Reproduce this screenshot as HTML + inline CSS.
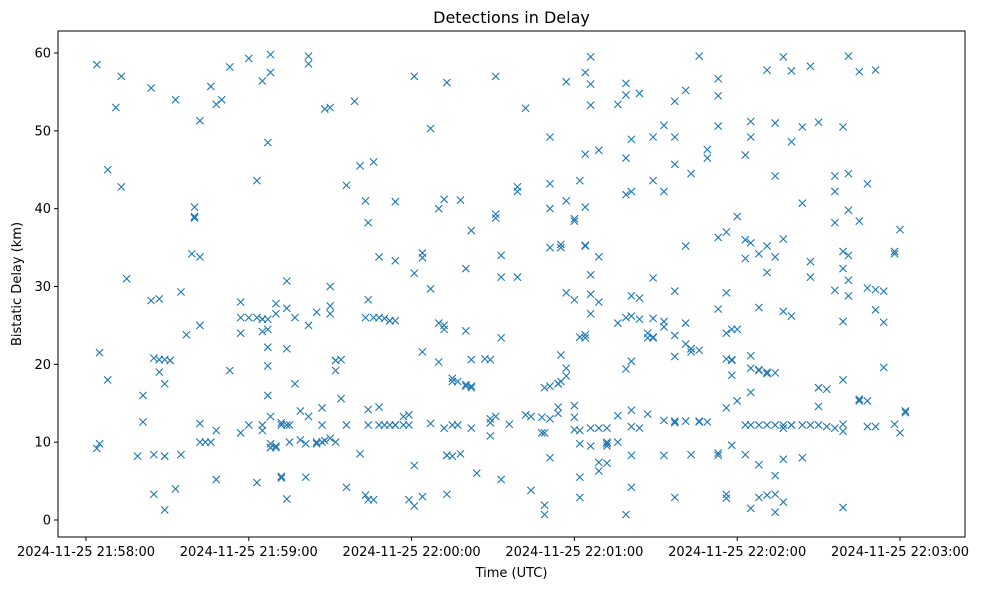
<!DOCTYPE html>
<html><head><meta charset="utf-8"><style>
body{margin:0;background:#fff;font-family:"Liberation Sans","DejaVu Sans",sans-serif}
svg text{font-family:"DejaVu Sans","Liberation Sans",sans-serif}
</style></head><body>
<svg id="c" width="981" height="590"></svg>
<script>
const xTickLabels=["2024-11-25 21:58:00","2024-11-25 21:59:00","2024-11-25 22:00:00","2024-11-25 22:01:00","2024-11-25 22:02:00","2024-11-25 22:03:00"];
const xTickSeconds=[0,60,120,180,240,300];
const yTicks=[0,10,20,30,40,50,60];
const detectionTimes=[];const detectionDelays=[];
const cols=[
[4,[58.5,9.2]],[5,[21.5,9.8]],[8,[45,18]],[11,[53]],[13,[57,42.8]],[15,[31]],[19,[8.2]],[21,[16,12.6]],
[24,[55.5,28.2]],[25,[20.8,8.4,3.3]],[27,[28.4,19,20.6]],[29,[8.2,8.2,17.5,20.6,1.3]],[31,[20.5,20.5]],[33,[54,4]],[35,[29.3,8.4]],[37,[23.8]],[39,[34.2]],
[40,[40.2,39,38.8]],[42,[51.3,33.8,25,12.4,10]],[44,[10]],[46,[55.7,10]],[48,[53.4,5.2,11.5]],[50,[54]],[53,[58.2,19.2]],
[57,[28,26,24,11.2]],[60,[59.3,26,12.2]],[63,[43.6,26,4.8]],[65,[56.4,25.8,25.8,24.2,12.2,11.5]],[67,[25.8,24.5,22.2,19.8,16,48.5]],
[68,[59.8,57.5,9.8,9.3,9.3,13.3]],[70,[27.8,26.5,9.3,9.5]],[72,[5.6,5.4,12.5,12.2]],[74,[30.7,27.2,22,2.7,12.2]],[75,[12.2,10]],[77,[26,17.5]],[79,[14,10.3]],
[81,[5.5,9.8]],[82,[59.6,58.6,25,13.3]],[85,[26.7,10,9.8]],[87,[14.4,12.2,10]],[88,[52.8,10.2]],[90,[30,53,26.5,27.5,10.5]],[92,[20.5,20.5,19.2,10]],[94,[20.6,15.6]],
[96,[43,4.2,12.2]],[99,[53.8]],[101,[45.5,8.5]],[103,[41,26,3.2]],[104,[38.2,28.3,14.2,12.2,2.6]],[106,[46,26,2.6]],[108,[33.8,26,14.5,12.2]],[110,[12.2,25.9]],
[112,[25.6,12.2,25.6]],[114,[33.3,25.6,40.9,12.2,12.2]],[117,[13.3,12.2]],[119,[2.6,13.5,12.2]],
[121,[57,31.7,1.8,7]],[124,[34.3,33.7,21.6,3]],[127,[50.3,29.7,12.4]],[130,[40,25.3,20.3]],[132,[41.2,11.8,24.5,25]],[133,[56.2,8.3,8.3,3.3]],[135,[8.2,18.2,17.8,12.2]],
[137,[12.2,17.8]],[138,[41.1,8.5]],[140,[32.3,24.3,17.4,17.2]],[142,[37.2,17.2,20.6,11.8,17]],[144,[6]],[147,[20.7]],[149,[10.8,12.5,13,20.6]],[151,[57,38.8,39.3,13.3]],
[153,[34,31.2,23.4,5.2]],[156,[12.3]],[159,[31.2,42.8,42.2]],[162,[13.5,52.9]],[164,[3.8,13.3]],[168,[13.2,11.2]],[169,[1.9,0.7,17,11.2]],[171,[40,43.2,49.2,35,17.2,8,13]],
[174,[13.7,17.5,17.5,14.5]],[175,[35.4,35,21.2,17.8]],[177,[56.3,41,29.2,19.5,18.5]],[180,[38.7,38.4,28.3,13.2,11.6,14.7]],[182,[43.6,23.5,11.5,5.5,2.9,9.8]],
[184,[57.5,47,35.3,35.2,40.2,23.4,23.8]],[186,[59.5,53.3,56,31.5,29,26.5,9.5,11.8]],[189,[47.5,33.8,28,11.8,6.3,7.4]],[192,[11.8,10,9.8,9.5,7.3]],[196,[53.4,25.3,13.4,10]],
[199,[56.1,54.6,46.5,41.8,26,19.4,0.7]],[201,[48.9,42.2,28.8,26.2,20.4,14.1,4.2,12,8.3]],[204,[54.8,28.5,25.8,11.8]],[207,[24,13.6,23.4]],[209,[49.2,43.6,31.1,25.9,23.5,23.4]],
[213,[50.7,42.2,25.5,24.8,12.8,8.3]],[217,[53.8,49.2,45.7,29.4,23.7,12.7,12.5,2.9,21]],[221,[55.2,22.6,25.3,35.2,12.7]],[223,[44.5,22,22,21.6,8.4]],[226,[59.6,21.8,12.6,12.7]],[229,[47.6,46.5,12.6]],
[233,[56.7,54.5,50.6,27.1,36.3,8.3,8.6]],[236,[29.2,24,37,20.7,14.4,3.3,2.8]],[238,[20.5,9.6,24.5,18.6,20.6]],[240,[39,15.3,24.5]],[243,[36,33.6,8.4,12.2,46.9]],
[245,[51.2,49.2,35.6,19.5,12.2,21.1,1.5,16.4]],[248,[34.2,27.3,19.3,19.2,12.2,7.1,2.9]],[251,[57.8,35.2,31.8,19,18.8,3.2,12.2]],[254,[51,44.2,33.8,18.9,12.2,5.7,3.3,1]],
[257,[59.5,36.1,26.8,11.8,12.2,7.8,2.3]],[260,[57.7,48.6,26.2,12.2,12.2]],[264,[40.7,50.5,12.2,8]],[267,[58.3,33.2,31.2,12.2]],[270,[51.1,17,17,14.6,12.2]],[273,[16.8,12]],
[276,[44.2,42.2,38.2,29.5,11.8]],[279,[25.5,32.3,34.5,18,12.3,11.4,1.6,50.5]],[281,[59.6,44.5,39.8,34,30.8,28.8]],[285,[57.6,38.4,15.5,15.5,15.3]],[288,[43.2,29.8,15.3,12]],
[291,[57.8,29.6,27,12]],[294,[29.4,25.4,19.6]],[298,[34.5,34.2,12.3]],[300,[37.3,11.2]],[302,[14,13.8]]
];
cols.forEach(c=>c[1].forEach(v=>{detectionTimes.push(c[0]);detectionDelays.push(v);}));

const NS="http://www.w3.org/2000/svg",svg=document.getElementById('c');
const L=58,R=965,T=31,B=537;
const xS=s=>86+s*(900-86)/300;
const yS=v=>520-v*(520-53)/60;
function mk(t,a,p){const e=document.createElementNS(NS,t);for(const k in a)e.setAttribute(k,a[k]);(p||svg).appendChild(e);return e;}
const frame=mk('rect',{x:L,y:T,width:R-L,height:B-T,fill:'none',stroke:'#000','stroke-width':1});


const title=mk('text',{x:(L+R)/2,y:23,'text-anchor':'middle','font-size':16});
title.textContent='Detections in Delay';


xTickSeconds.forEach((s,i)=>{
 const x=xS(s);
 const tk=mk('line',{x1:x,x2:x,y1:B,y2:B+4,stroke:'#000'});
 
 
 const t=mk('text',{x:x,y:B+19,'text-anchor':'middle','font-size':13});
 t.textContent=xTickLabels[i];
 
 
});
yTicks.forEach(v=>{
 const y=yS(v);
 const tk=mk('line',{x1:L-4,x2:L,y1:y,y2:y,stroke:'#000'});
 
 
 const t=mk('text',{x:L-7,y:y+4.5,'text-anchor':'end','font-size':13});
 t.textContent=v;
 
 
});
const xt=mk('text',{x:(L+R)/2,y:577,'text-anchor':'middle','font-size':13});
xt.textContent='Time (UTC)';


const yt=mk('text',{x:0,y:0,'text-anchor':'middle','font-size':13,transform:`translate(21,${(T+B)/2}) rotate(-90)`});
yt.textContent='Bistatic Delay (km)';


const g=mk('g',{stroke:'#1f77b4','stroke-width':1.1,fill:'none'});


detectionTimes.forEach((s,i)=>{
 const x=xS(s),y=yS(detectionDelays[i]),d=3.6;
 const p=mk('path',{d:`M${x-d},${y-d}L${x+d},${y+d}M${x-d},${y+d}L${x+d},${y-d}`},g);
 
 
});
</script>
</body></html>
